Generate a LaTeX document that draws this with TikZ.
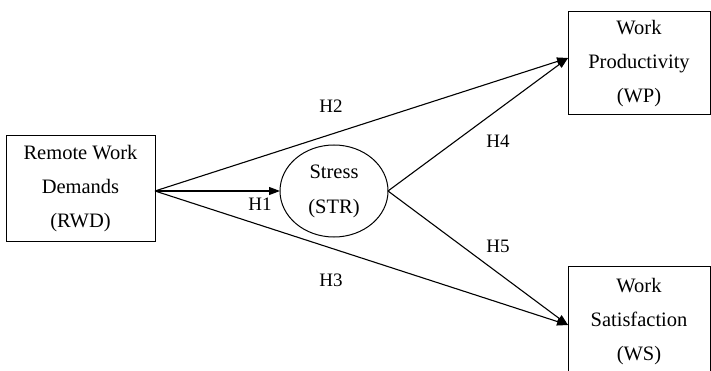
\documentclass[tikz,border=0pt]{standalone}
\usepackage{fontspec}
\setmainfont{Liberation Serif}
\usetikzlibrary{arrows.meta,shapes.geometric}
\begin{document}
\begin{tikzpicture}[x=1pt,y=-1pt,
  box/.style={draw,line width=1pt,rectangle,inner sep=0pt,outer sep=0pt,align=center,font=\fontsize{20.5}{34}\selectfont},
  oval/.style={draw,line width=1pt,ellipse,inner sep=0pt,outer sep=0pt,align=center,font=\fontsize{20.5}{35}\selectfont},
  link/.style={line width=1.1pt,-{Triangle[length=11pt,width=8pt]}},
  lab/.style={font=\fontsize{19}{20}\selectfont,inner sep=0pt}]
\useasboundingbox (0,0) rectangle (711,371);
\node[box,minimum width=149pt,minimum height=105pt] (rwd) at (80.5,188.5) {Remote Work\\Demands\\(RWD)};
\node[oval,minimum width=108pt,minimum height=92pt] (str) at (334,191) {Stress\\(STR)};
\node[box,minimum width=142pt,minimum height=103pt] (wp) at (639,63.5) {Work\\Productivity\\(WP)};
\node[box,minimum width=142pt,minimum height=112pt] (ws) at (639,322) {Work\\Satisfaction\\(WS)};
\coordinate (src) at (155,191);
\coordinate (wpin) at (568,58);
\coordinate (wsin) at (568,325);
\draw[link] (src) -- (str.west);
\draw[link] (src) -- (wpin);
\draw[link] (src) -- (wsin);
\draw[link] (str.east) -- (wpin);
\draw[link] (str.east) -- (wsin);
\node[lab] (h1) at (260,204) {H1};
\node[lab] (h2) at (331,106) {H2};
\node[lab] (h3) at (331,280) {H3};
\node[lab] (h4) at (498,141) {H4};
\node[lab] (h5) at (498,246) {H5};
\end{tikzpicture}
\end{document}
